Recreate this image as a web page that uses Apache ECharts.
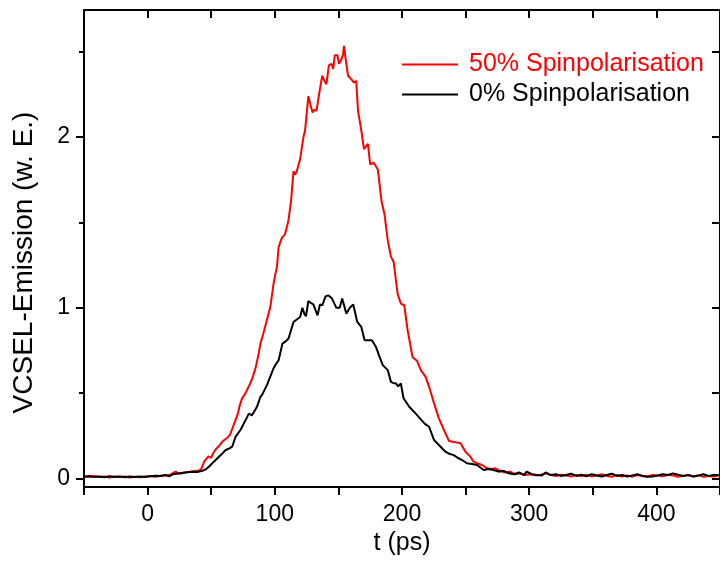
<!DOCTYPE html>
<html>
<head>
<meta charset="utf-8">
<script src="https://cdn.jsdelivr.net/npm/echarts@6/dist/echarts.min.js"></script>
<style>html,body{margin:0;padding:0;background:#fff;}#c{width:720px;height:565px;}</style>
</head>
<body>
<div id="c"></div>
<script>
var seriesNames = ['50% Spinpolarisation', '0% Spinpolarisation'];
var xTickLabels = [0, 100, 200, 300, 400];
var yTickLabels = [0, 1, 2];
var yMinorTicks = [0.5, 1.5, 2.5];

var redT = [-50,-46,-42,-38,-34,-30,-26,-22,-18,-14,-10,-6,-2,2,6,10,14,18,22,25,28,32,36,40.5,42.5,44.5,46,48,50,51,53.5,56,58.7,61,63,65,67,69,71,72.5,74.3,77,79.6,82,84.8,87,88.7,91,93.8,96.5,99,100.5,101.7,103,105.5,108,110.7,112.8,114.7,116,117.3,119.9,122.5,123.8,126.4,128,129.7,131,132.8,135,137.3,139,140.6,142.5,144.6,145.9,147.2,149.2,150.5,152,153.6,154.4,156,157.6,160.1,162.2,164,165.4,168,170.1,173.2,175,177.8,181,182.3,184,186.2,188.8,191.3,193.4,196.6,199.1,201.8,204.4,208.3,211.7,214.8,218.6,221.3,225.2,229,233,236.9,240,243.4,246,249.9,253.8,256,259,262.9,266.8,270,273.3,277,281,285,289,293,297,301,305,309,313,317,321,325,329,333,337,341,345,349,353,357,361,365,369,373,377,381,385,389,393,397,401,405,409,413,417,421,425,429,433,437,441,445,449];
var redV = [0.012,0.008,0.014,0.009,0.011,0.006,0.012,0.008,0.011,0.006,0.01,0.007,0.012,0.014,0.01,0.016,0.018,0.022,0.04,0.027,0.032,0.038,0.042,0.046,0.06,0.10,0.09,0.13,0.12,0.14,0.17,0.19,0.215,0.23,0.24,0.26,0.30,0.34,0.38,0.43,0.47,0.50,0.54,0.58,0.645,0.72,0.79,0.85,0.93,1.005,1.14,1.20,1.24,1.355,1.41,1.43,1.51,1.63,1.80,1.78,1.80,1.87,2.0,2.04,2.24,2.19,2.145,2.16,2.155,2.26,2.36,2.33,2.31,2.42,2.43,2.40,2.48,2.48,2.43,2.45,2.48,2.535,2.44,2.36,2.34,2.32,2.33,2.155,2.04,1.93,1.96,1.84,1.85,1.81,1.80,1.62,1.55,1.395,1.30,1.27,1.08,1.025,1.015,0.87,0.71,0.69,0.635,0.595,0.537,0.44,0.352,0.284,0.22,0.215,0.21,0.206,0.157,0.128,0.10,0.089,0.079,0.06,0.055,0.06,0.045,0.035,0.04,0.025,0.03,0.02,0.025,0.018,0.022,0.03,0.02,0.015,0.022,0.018,0.012,0.02,0.015,0.022,0.012,0.018,0.025,0.015,0.01,0.02,0.012,0.018,0.01,0.02,0.015,0.012,0.02,0.018,0.012,0.022,0.018,0.01,0.015,0.02,0.012,0.018,0.01,0.015,0.012,0.018];

var blackT = [-50,-46,-42,-38,-34,-30,-26,-22,-18,-14,-10,-6,-2,2,6,10,14,17,20,25,29,35.3,39,43.1,46,48.4,51,53.5,57.5,61.4,64,66.5,69.2,73,77,79.6,82.1,86,88.7,90,93.8,95.2,99,100.4,103,106,108,110.8,114.7,116,119.9,121.7,123.2,124.5,126.4,128,130.3,133.6,135.5,137.3,139.9,142,145,148.4,151,153,156.2,159,161.7,164.8,168,170.6,173,176.3,179.6,182,184.9,188.8,191.3,193,195.2,197,199.1,201.2,205.7,210.8,214.8,218,221.3,225.2,229,234.2,237,240.7,244,247.2,251.1,255,259,264.2,268,272,276,280,284,288,292,296,298,302,306,310,313,317,321,325,329,333,337,341,345,349,353,357,361,365,369,373,377,381,385,389,393,397,401,405,409,413,417,421,425,429,433,437,441,445,449];
var blackV = [0.01,0.014,0.008,0.012,0.007,0.013,0.009,0.011,0.007,0.012,0.008,0.011,0.009,0.013,0.016,0.014,0.02,0.012,0.025,0.03,0.035,0.04,0.038,0.045,0.055,0.07,0.09,0.108,0.137,0.167,0.175,0.186,0.245,0.284,0.342,0.38,0.37,0.42,0.478,0.49,0.547,0.557,0.645,0.664,0.693,0.79,0.80,0.82,0.917,0.927,0.946,1.00,0.966,0.95,1.04,1.03,1.02,0.956,1.02,1.014,1.067,1.073,1.054,1.00,1.00,1.054,0.966,1.0,1.02,0.917,0.888,0.81,0.81,0.81,0.77,0.72,0.664,0.635,0.566,0.56,0.557,0.54,0.557,0.47,0.42,0.38,0.346,0.32,0.303,0.225,0.196,0.157,0.145,0.137,0.12,0.108,0.089,0.085,0.079,0.05,0.055,0.05,0.04,0.045,0.03,0.025,0.035,0.02,0.04,0.025,0.02,0.018,0.035,0.02,0.025,0.015,0.02,0.028,0.015,0.022,0.012,0.025,0.018,0.012,0.02,0.028,0.015,0.02,0.012,0.018,0.025,0.015,0.01,0.012,0.018,0.025,0.02,0.03,0.022,0.015,0.02,0.012,0.018,0.025,0.015,0.02,0.02];

function pairs(t, v) { return t.map(function (x, i) { return [x, v[i]]; }); }

var FONT = 'Liberation Sans';
var X_MIN = -50, X_MAX = 450, Y_MIN = -0.05, Y_MAX = 2.745;
var blackLine = { show: true, onZero: false, lineStyle: { color: '#000', width: 2 } };

var chart = echarts.init(document.getElementById('c'), null, { renderer: 'canvas' });
chart.setOption({
  backgroundColor: '#fff',
  animation: false,
  textStyle: { fontFamily: FONT },
  grid: { left: 84, top: 10, width: 641, height: 477, containLabel: false },
  legend: {
    orient: 'vertical',
    left: 397, top: 47,
    itemWidth: 56, itemHeight: 14, itemGap: 5,
    icon: 'path://M0,6 L56,6 L56,8 L0,8 Z',
    textStyle: { fontFamily: FONT, fontSize: 25, color: '#000', padding: [0, 0, 0, 6] },
    data: [
      { name: seriesNames[0], textStyle: { color: '#ff0000' } },
      { name: seriesNames[1], textStyle: { color: '#000' } }
    ]
  },
  xAxis: [
    {
      type: 'value', position: 'bottom', min: X_MIN, max: X_MAX, interval: 50,
      name: 't (ps)', nameLocation: 'middle', nameGap: 40,
      nameTextStyle: { fontFamily: FONT, fontSize: 25, color: '#000' },
      axisLine: blackLine,
      axisTick: { show: true, inside: false, length: 8, lineStyle: { color: '#000', width: 2 } },
      axisLabel: { customValues: xTickLabels, fontFamily: FONT, fontSize: 23, color: '#000', margin: 16 },
      splitLine: { show: false }
    },
    {
      type: 'value', position: 'top', min: X_MIN, max: X_MAX, interval: 50,
      axisLine: blackLine,
      axisTick: { show: true, inside: true, length: 8, lineStyle: { color: '#000', width: 2 } },
      axisLabel: { show: false },
      splitLine: { show: false }
    }
  ],
  yAxis: [
    {
      type: 'value', position: 'left', min: Y_MIN, max: Y_MAX,
      name: 'VCSEL-Emission (w. E.)', nameLocation: 'middle', nameGap: 46,
      nameTextStyle: { fontFamily: FONT, fontSize: 28, color: '#000', padding: [0, 28, 0, 0] },
      axisLine: blackLine,
      axisTick: { show: true, inside: false, length: 8, customValues: yTickLabels, lineStyle: { color: '#000', width: 2 } },
      axisLabel: { customValues: yTickLabels, fontFamily: FONT, fontSize: 23, color: '#000', margin: 14 },
      splitLine: { show: false }
    },
    {
      type: 'value', position: 'left', min: Y_MIN, max: Y_MAX,
      axisLine: { show: false, onZero: false },
      axisTick: { show: true, inside: false, length: 5, customValues: yMinorTicks, lineStyle: { color: '#000', width: 2 } },
      axisLabel: { show: false },
      splitLine: { show: false }
    },
    {
      type: 'value', position: 'right', min: Y_MIN, max: Y_MAX,
      axisLine: blackLine,
      axisTick: { show: true, inside: true, length: 8, customValues: yTickLabels.concat(yMinorTicks), lineStyle: { color: '#000', width: 2 } },
      axisLabel: { show: false },
      splitLine: { show: false }
    }
  ],
  series: [
    {
      name: seriesNames[0], type: 'line', xAxisIndex: 0, yAxisIndex: 0,
      data: pairs(redT, redV), symbol: 'none', color: '#ff0000',
      lineStyle: { color: '#ff0000', width: 2 }
    },
    {
      name: seriesNames[1], type: 'line', xAxisIndex: 0, yAxisIndex: 0,
      data: pairs(blackT, blackV), symbol: 'none', color: '#000',
      lineStyle: { color: '#000', width: 2 }
    }
  ]
});
</script>
</body>
</html>
